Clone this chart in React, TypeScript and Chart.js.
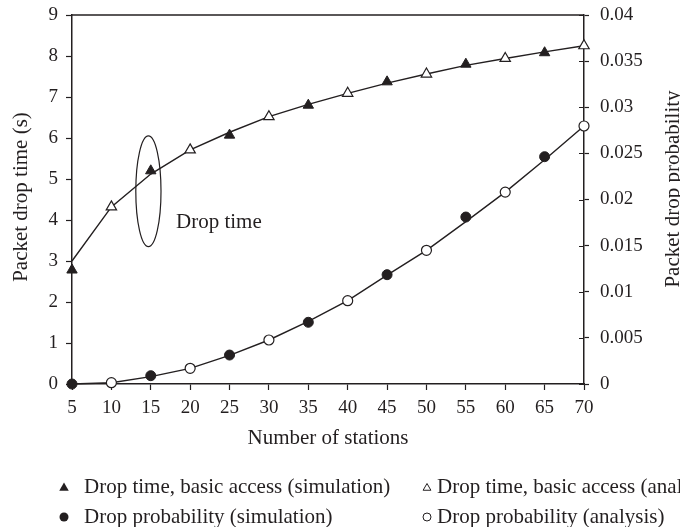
import { useEffect, useRef } from 'react';
import { Chart, registerables } from 'chart.js';

Chart.register(...registerables);

// ---------- data ----------
const stations = [5, 10, 15, 20, 25, 30, 35, 40, 45, 50, 55, 60, 65, 70];
const simStations = [5, 15, 25, 35, 45, 55, 65];

// Drop time (s) – analysis curve (markers shown at 10, 20, ..., 70)
const dropTimeAnalysis = [3.0, 4.32, 5.12, 5.71, 6.14, 6.52, 6.82, 7.09, 7.34, 7.56, 7.77, 7.94, 8.1, 8.25];
// Drop time (s) – simulation points
const dropTimeSimulation = [2.78, 5.2, 6.07, 6.8, 7.37, 7.8, 8.08];

// Drop probability – analysis curve
const dropProbAnalysis = [0, 0.00014, 0.0008, 0.0017, 0.0031, 0.00477, 0.0068, 0.00903, 0.0118, 0.01449, 0.0176, 0.0208, 0.0243, 0.02797];
// Drop probability – simulation points
const dropProbSimulation = [0, 0.0009, 0.00314, 0.00669, 0.01185, 0.0181, 0.02464];

const rightTickLabels = ['0', '0.005', '0.01', '0.015', '0.02', '0.025', '0.03', '0.035', '0.04'];

const xTitle = 'Number of stations';
const yTitle = 'Packet drop time (s)';
const y1Title = 'Packet drop probability';
const annotationText = 'Drop time';
const legendLabels = [
  'Drop time, basic access (simulation)',
  'Drop time, basic access (analysis)',
  'Drop probability (simulation)',
  'Drop probability (analysis)',
];

// ---------- style ----------
const INK = '#231f20';
const FONT = "'Liberation Serif', 'Times New Roman', serif";
const TICK_SIZE = 19;
const TEXT_SIZE = 21;

function tri(ctx: CanvasRenderingContext2D, x: number, y: number, r: number) {
  ctx.beginPath();
  ctx.moveTo(x, y - r);
  ctx.lineTo(x + r * 0.866, y + r / 2);
  ctx.lineTo(x - r * 0.866, y + r / 2);
  ctx.closePath();
}

const decorPlugin = {
  id: 'decor',
  afterDraw(chart: any) {
    const { ctx, chartArea: ca, scales } = chart;
    const xs = scales.x;
    const ys = scales.y;
    const y1 = scales.y1;
    ctx.save();

    // top frame line
    ctx.strokeStyle = INK;
    ctx.lineWidth = 1.5;
    ctx.beginPath();
    ctx.moveTo(ca.left, ca.top);
    ctx.lineTo(ca.right, ca.top);
    ctx.stroke();

    // right-axis ticks crossing into the plot
    ctx.lineWidth = 1.2;
    ctx.beginPath();
    y1.ticks.forEach((t: any) => {
      const py = Math.round(y1.getPixelForValue(t.value)) + 0.5;
      ctx.moveTo(ca.right - 5, py);
      ctx.lineTo(ca.right, py);
    });
    ctx.stroke();

    // annotation ellipse around the drop time curve
    const cx = xs.getPixelForValue(14.7);
    const cy = ys.getPixelForValue(4.7);
    const ry = Math.abs(ys.getPixelForValue(4.7 + 1.35) - cy);
    const rx = Math.abs(xs.getPixelForValue(14.7 + 1.6) - cx);
    ctx.lineWidth = 1.2;
    ctx.beginPath();
    ctx.ellipse(cx, cy, rx, ry, 0, 0, Math.PI * 2);
    ctx.stroke();

    ctx.fillStyle = INK;
    ctx.font = `${TEXT_SIZE}px ${FONT}`;
    ctx.textAlign = 'left';
    ctx.textBaseline = 'middle';
    ctx.fillText(annotationText, xs.getPixelForValue(18.2), ys.getPixelForValue(3.95));

    // axis titles
    ctx.textAlign = 'center';
    ctx.fillText(xTitle, (ca.left + ca.right) / 2, 438);

    ctx.save();
    ctx.translate(21, 197);
    ctx.rotate(-Math.PI / 2);
    ctx.fillText(yTitle, 0, 0);
    ctx.restore();

    ctx.save();
    ctx.translate(673, 189);
    ctx.rotate(-Math.PI / 2);
    ctx.fillText(y1Title, 0, 0);
    ctx.restore();

    // legend
    const rows = [487, 517];
    const markX = [64, 427];
    const textX = [84, 437];
    ctx.textAlign = 'left';
    ctx.textBaseline = 'middle';
    // filled triangle
    tri(ctx, markX[0], rows[0] + 1, 5.5);
    ctx.fill();
    // hollow triangle
    ctx.lineWidth = 1;
    tri(ctx, markX[1], rows[0] + 1, 4.5);
    ctx.stroke();
    // filled circle
    ctx.beginPath();
    ctx.arc(markX[0], rows[1], 4.5, 0, Math.PI * 2);
    ctx.fill();
    // hollow circle
    ctx.beginPath();
    ctx.arc(markX[1], rows[1], 4, 0, Math.PI * 2);
    ctx.stroke();

    ctx.fillText(legendLabels[0], textX[0], rows[0]);
    ctx.fillText(legendLabels[1], textX[1], rows[0]);
    ctx.fillText(legendLabels[2], textX[0], rows[1]);
    ctx.fillText(legendLabels[3], textX[1], rows[1]);

    ctx.restore();
  },
};

export default function App() {
  const ref = useRef<HTMLCanvasElement | null>(null);

  useEffect(() => {
    if (!ref.current) return;
    const analysisRadius = (r: number) => stations.map((_, i) => (i % 2 === 1 ? r : 0));

    const chart = new Chart(ref.current, {
      type: 'line',
      data: {
        datasets: [
          {
            label: legendLabels[0],
            data: simStations.map((x, i) => ({ x, y: dropTimeSimulation[i] })),
            yAxisID: 'y',
            showLine: false,
            pointStyle: 'triangle',
            pointRadius: 6,
            pointBackgroundColor: INK,
            pointBorderColor: INK,
            pointBorderWidth: 1,
            clip: false,
          },
          {
            label: legendLabels[2],
            data: simStations.map((x, i) => ({ x, y: dropProbSimulation[i] })),
            yAxisID: 'y1',
            showLine: false,
            pointStyle: 'circle',
            pointRadius: 5,
            pointBackgroundColor: INK,
            pointBorderColor: INK,
            pointBorderWidth: 1,
            clip: false,
          },
          {
            label: legendLabels[1],
            data: stations.map((x, i) => ({ x, y: dropTimeAnalysis[i] })),
            yAxisID: 'y',
            borderColor: INK,
            borderWidth: 1.4,
            tension: 0,
            pointStyle: 'triangle',
            pointRadius: analysisRadius(6),
            pointBackgroundColor: '#ffffff',
            pointBorderColor: INK,
            pointBorderWidth: 1.2,
            clip: false,
          },
          {
            label: legendLabels[3],
            data: stations.map((x, i) => ({ x, y: dropProbAnalysis[i] })),
            yAxisID: 'y1',
            borderColor: INK,
            borderWidth: 1.4,
            tension: 0,
            pointStyle: 'circle',
            pointRadius: analysisRadius(5),
            pointBackgroundColor: '#ffffff',
            pointBorderColor: INK,
            pointBorderWidth: 1.2,
            clip: false,
          },
        ],
      },
      options: {
        responsive: false,
        animation: false,
        events: [],
        layout: { padding: { top: 15, left: 0, right: 0, bottom: 0 } },
        plugins: {
          legend: { display: false },
          tooltip: { enabled: false },
          title: { display: false },
        },
        scales: {
          x: {
            type: 'linear',
            position: 'bottom',
            min: 5,
            max: 70,
            afterFit: (s: any) => { s.height = 143; s.paddingLeft = 0; s.paddingRight = 0; },
            ticks: {
              stepSize: 5,
              autoSkip: false,
              maxRotation: 0,
              padding: 7,
              color: INK,
              font: { family: FONT, size: TICK_SIZE },
            },
            grid: {
              drawOnChartArea: false,
              drawTicks: true,
              tickLength: 6,
              tickColor: INK,
              tickWidth: 1.2,
            },
            border: { display: true, color: INK, width: 1.5 },
          },
          y: {
            type: 'linear',
            position: 'left',
            min: 0,
            max: 9,
            afterFit: (s: any) => { s.width = 72; s.paddingTop = 0; s.paddingBottom = 0; },
            ticks: {
              stepSize: 1,
              padding: 8,
              color: INK,
              font: { family: FONT, size: TICK_SIZE },
            },
            grid: {
              drawOnChartArea: false,
              drawTicks: true,
              tickLength: 6,
              tickColor: INK,
              tickWidth: 1.2,
            },
            border: { display: true, color: INK, width: 1.5 },
          },
          y1: {
            type: 'linear',
            position: 'right',
            min: 0,
            max: 0.04,
            afterFit: (s: any) => { s.width = 96; s.paddingTop = 0; s.paddingBottom = 0; },
            ticks: {
              stepSize: 0.005,
              padding: 11,
              color: INK,
              font: { family: FONT, size: TICK_SIZE },
              callback: (_v: any, i: number) => rightTickLabels[i],
            },
            grid: {
              drawOnChartArea: false,
              drawTicks: true,
              tickLength: 5,
              tickColor: INK,
              tickWidth: 1.2,
            },
            border: { display: true, color: INK, width: 1.5 },
          },
        },
      },
      plugins: [decorPlugin],
    });

    return () => chart.destroy();
  }, []);

  return (
    <div style={{ position: 'absolute', left: 0, top: 0, width: 680, height: 527, background: '#fff' }}>
      <canvas ref={ref} width={680} height={527} style={{ display: 'block' }} />
    </div>
  );
}
